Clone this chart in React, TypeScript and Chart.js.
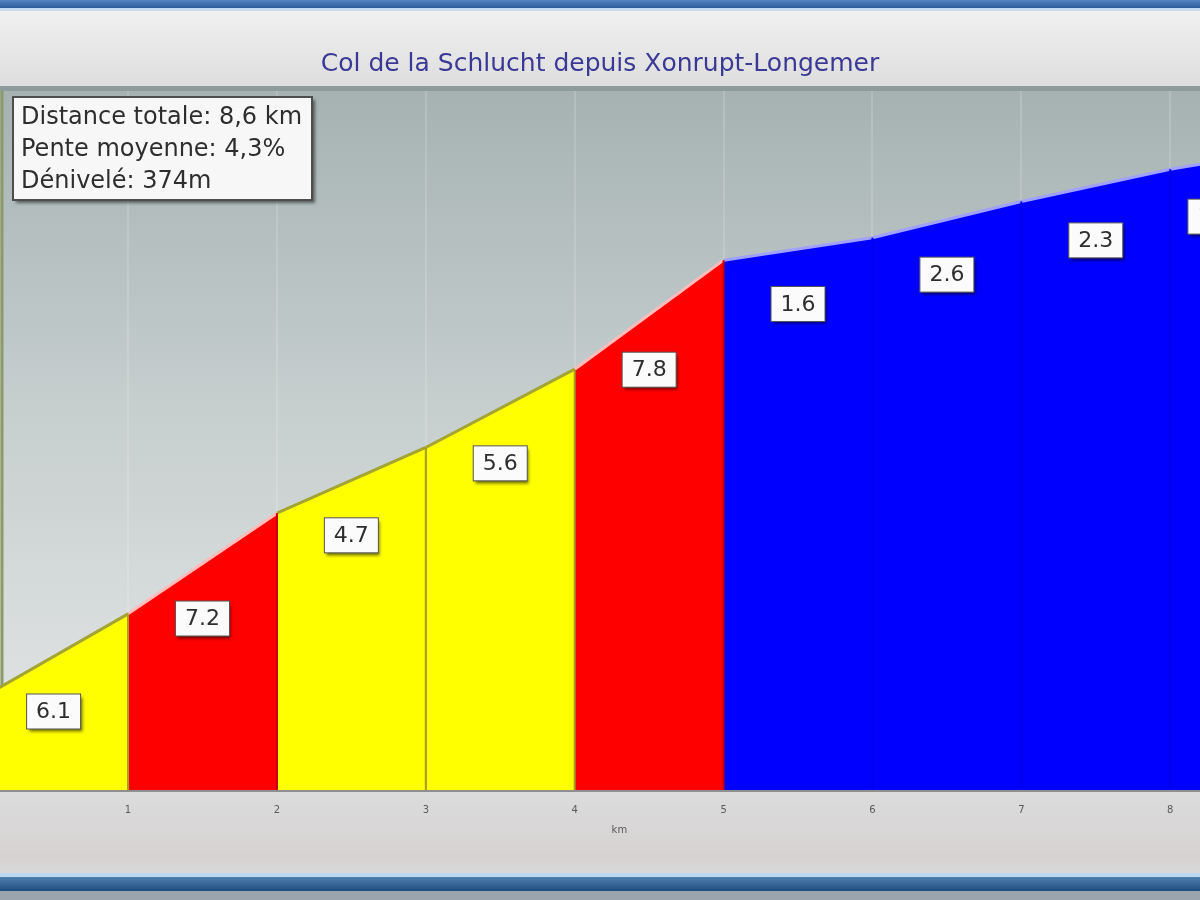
import { useEffect, useRef } from 'react';
import { Chart, registerables } from 'chart.js';

Chart.register(...registerables);

// Climb profile: distance markers (km) and elevation (m) at each marker
const KM = [0, 1, 2, 3, 4, 5, 6, 7, 8, 8.6];
const ELEVATION = [765, 826, 898, 945, 1001, 1079, 1095, 1121, 1144, 1155];
// Average gradient (%) of each section between two markers
const GRADIENTS = [6.1, 7.2, 4.7, 5.6, 7.8, 1.6, 2.6, 2.3, 1.8];
const TICK_KM = [1, 2, 3, 4, 5, 6, 7, 8];
const TOTAL_KM = 8.6;
const TITLE = 'Col de la Schlucht depuis Xonrupt-Longemer';
const INFO_LINES = ['Distance totale: 8,6 km', 'Pente moyenne: 4,3%', 'Dénivelé: 374m'];
const AXIS_TITLE = 'km';

const Y_MIN = 700;
const Y_MAX = 1200;
const X_VIEW_MIN = 0.14;
const X_VIEW_MAX = 8.2;

const FONT = "'DejaVu Sans', Verdana, sans-serif";

// Colour classes by steepness
function sectionStyle(g: number) {
  if (g >= 7) return { fill: '#ff0000', top: '#ffbcbc', seam: '#c80000' };
  if (g >= 4) return { fill: '#ffff00', top: '#a4a432', seam: '#a8a020' };
  return { fill: '#0000ff', top: '#a0a0ff', seam: '#0000ee' };
}

const datasets = GRADIENTS.map((g, i) => {
  const st = sectionStyle(g);
  return {
    label: `${KM[i]}-${KM[i + 1]}`,
    data: [
      { x: KM[i], y: Y_MIN },
      { x: KM[i], y: ELEVATION[i] },
      { x: KM[i + 1], y: ELEVATION[i + 1] },
      { x: KM[i + 1], y: Y_MIN },
    ],
    fill: 'origin',
    backgroundColor: st.fill,
    borderColor: st.seam,
    borderWidth: 2,
    pointRadius: 0,
    tension: 0,
    segment: {
      borderColor: (c: any) => (c.p0DataIndex === 1 ? st.top : st.seam),
      borderWidth: (c: any) => (c.p0DataIndex === 1 ? 3 : 2),
    },
  };
});

const decorPlugin = {
  id: 'profileDecor',
  beforeDraw(chart: any) {
    const { ctx, chartArea: a, width, height } = chart;
    ctx.save();
    // header strip
    let g = ctx.createLinearGradient(0, 0, 0, 8);
    g.addColorStop(0, '#5585c0');
    g.addColorStop(1, '#2d5c9a');
    ctx.fillStyle = g;
    ctx.fillRect(0, 0, width, 8);
    ctx.fillStyle = '#c6dbef';
    ctx.fillRect(0, 8, width, 3);
    g = ctx.createLinearGradient(0, 11, 0, a.top - 5);
    g.addColorStop(0, '#f0f0f0');
    g.addColorStop(1, '#dedede');
    ctx.fillStyle = g;
    ctx.fillRect(0, 11, width, a.top - 16);
    ctx.fillStyle = '#8e9b9b';
    ctx.fillRect(0, a.top - 5, width, 5);
    // plot background
    g = ctx.createLinearGradient(0, a.top, 0, a.bottom);
    g.addColorStop(0, '#a6b2b2');
    g.addColorStop(0.45, '#c6cece');
    g.addColorStop(1, '#e6e7e7');
    ctx.fillStyle = g;
    ctx.fillRect(a.left, a.top, a.width, a.height);
    // footer
    g = ctx.createLinearGradient(0, a.bottom, 0, 873);
    g.addColorStop(0, '#dcdcdc');
    g.addColorStop(0.8, '#d6d2d2');
    g.addColorStop(1, '#d8d8d8');
    ctx.fillStyle = g;
    ctx.fillRect(0, a.bottom, width, 873 - a.bottom);
    ctx.fillStyle = '#bcd8ee';
    ctx.fillRect(0, 873, width, 4);
    g = ctx.createLinearGradient(0, 877, 0, 891);
    g.addColorStop(0, '#4f80b0');
    g.addColorStop(1, '#1f4d7c');
    ctx.fillStyle = g;
    ctx.fillRect(0, 877, width, 14);
    ctx.fillStyle = '#9aa5ae';
    ctx.fillRect(0, 891, width, height - 891);
    ctx.restore();
  },
  beforeDatasetsDraw(chart: any) {
    const { ctx, chartArea: a } = chart;
    ctx.save();
    ctx.strokeStyle = '#8c9a6a';
    ctx.lineWidth = 3;
    ctx.beginPath();
    ctx.moveTo(a.left + 2, a.top);
    ctx.lineTo(a.left + 2, a.bottom);
    ctx.stroke();
    ctx.restore();
  },
  afterDatasetsDraw(chart: any) {
    const { ctx, chartArea: a, scales } = chart;
    const xs = scales.x;
    const ys = scales.y;
    ctx.save();
    ctx.beginPath();
    ctx.rect(a.left, a.top, a.width, a.height);
    ctx.clip();
    GRADIENTS.forEach((gr, i) => {
      const cx = xs.getPixelForValue((KM[i] + KM[i + 1]) / 2);
      const cy = ys.getPixelForValue((ELEVATION[i] + ELEVATION[i + 1]) / 2) + 55;
      const w = 54;
      const h = 35;
      ctx.save();
      ctx.shadowColor = 'rgba(0,0,0,0.55)';
      ctx.shadowOffsetX = 2;
      ctx.shadowOffsetY = 3;
      ctx.shadowBlur = 3;
      ctx.fillStyle = '#fbfbfb';
      ctx.fillRect(cx - w / 2, cy - h / 2, w, h);
      ctx.restore();
      ctx.strokeStyle = '#555555';
      ctx.lineWidth = 1;
      ctx.strokeRect(cx - w / 2, cy - h / 2, w, h);
      ctx.fillStyle = '#2e2e2e';
      ctx.font = `22px ${FONT}`;
      ctx.textAlign = 'center';
      ctx.textBaseline = 'middle';
      ctx.fillText(gr.toFixed(1), cx, cy + 1);
    });
    ctx.restore();

    // axis title, centred on the full course length
    ctx.save();
    ctx.fillStyle = '#5a5a5a';
    ctx.font = `10px ${FONT}`;
    ctx.textAlign = 'center';
    ctx.textBaseline = 'middle';
    ctx.fillText(AXIS_TITLE, xs.getPixelForValue(TOTAL_KM / 2), a.bottom + 40);
    ctx.restore();
  },
  afterDraw(chart: any) {
    const { ctx } = chart;
    const bx = 13;
    const by = 97;
    const bw = 299;
    const bh = 103;
    ctx.save();
    ctx.shadowColor = 'rgba(0,0,0,0.5)';
    ctx.shadowOffsetX = 3;
    ctx.shadowOffsetY = 3;
    ctx.shadowBlur = 3;
    ctx.fillStyle = '#f7f7f7';
    ctx.fillRect(bx, by, bw, bh);
    ctx.restore();
    ctx.save();
    ctx.strokeStyle = '#4d4d4d';
    ctx.lineWidth = 2;
    ctx.strokeRect(bx, by, bw, bh);
    ctx.fillStyle = '#2e2e2e';
    ctx.font = `24px ${FONT}`;
    ctx.textAlign = 'left';
    ctx.textBaseline = 'middle';
    INFO_LINES.forEach((t, i) => ctx.fillText(t, bx + 8, by + 21 + i * 32));
    ctx.restore();
  },
};

export default function App() {
  const ref = useRef<HTMLCanvasElement>(null);

  useEffect(() => {
    const chart = new Chart(ref.current as HTMLCanvasElement, {
      type: 'line',
      data: { datasets: datasets as any },
      options: {
        animation: false,
        responsive: true,
        maintainAspectRatio: false,
        layout: { padding: { top: 0, left: 0, right: 0, bottom: 70 } },
        plugins: {
          legend: { display: false },
          tooltip: { enabled: false },
          title: {
            display: true,
            text: TITLE,
            color: '#3a3a96',
            font: { family: FONT, size: 25, weight: 'normal' },
            padding: { top: 49, bottom: 12 },
          },
        },
        scales: {
          x: {
            type: 'linear',
            min: X_VIEW_MIN,
            max: X_VIEW_MAX,
            afterBuildTicks: (s: any) => {
              s.ticks = TICK_KM.map((v) => ({ value: v }));
            },
            ticks: {
              color: '#5a5a5a',
              font: { family: FONT, size: 10 },
              padding: 14,
              maxRotation: 0,
              autoSkip: false,
              callback: (v: any) => String(v),
            },
            grid: { color: 'rgba(255,255,255,0.15)', lineWidth: 2, drawTicks: false },
            border: { display: true, color: 'rgba(0,0,0,0.35)', width: 3 },
          },
          y: {
            display: false,
            min: Y_MIN,
            max: Y_MAX,
          },
        },
      } as any,
      plugins: [decorPlugin],
    });
    return () => chart.destroy();
  }, []);

  return (
    <div style={{ position: 'fixed', left: 0, top: 0, width: 1200, height: 900 }}>
      <canvas ref={ref} />
    </div>
  );
}
